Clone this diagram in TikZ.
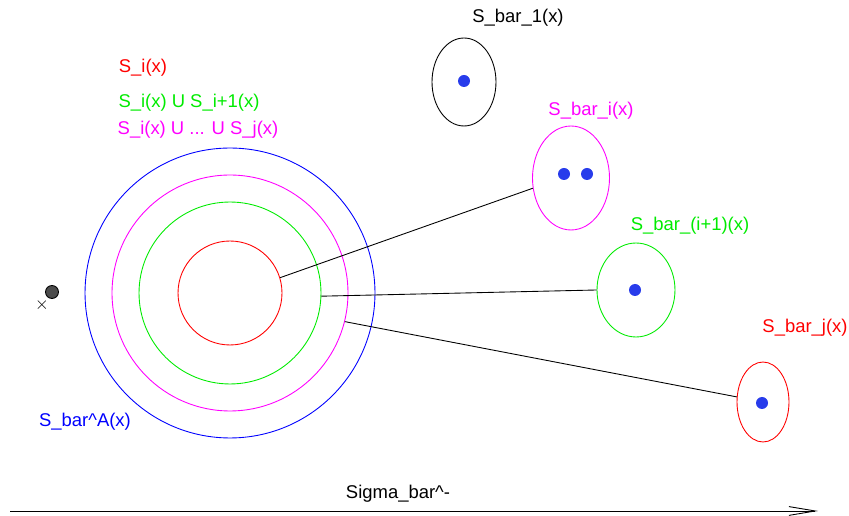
\documentclass[tikz,border=0pt]{standalone}
\usepackage{fontspec}
\setmainfont{Liberation Sans}
\usetikzlibrary{shapes.geometric,arrows.meta}
\definecolor{dotblue}{RGB}{40,60,235}
\definecolor{brightgreen}{RGB}{0,235,0}
\definecolor{pinkset}{RGB}{255,0,255}
\begin{document}
\begin{tikzpicture}[x=0.02cm, y=-0.02cm, line width=0.5pt,
    ring/.style={circle, draw, inner sep=0pt},
    oval/.style={ellipse, draw, inner sep=0pt},
    elem/.style={circle, fill=dotblue, inner sep=0pt, minimum size=0.24cm},
    lbl/.style={inner sep=0pt, font=\fontsize{10.5}{12}\selectfont}]
    \useasboundingbox (0,0) rectangle (849,516);

    % nested sets around x
    \node[ring, draw=blue, minimum size=5.8cm] (sa) at (230,293) {};
    \node[ring, draw=pinkset, minimum size=4.72cm] (sm) at (230,293) {};
    \node[ring, draw=brightgreen, minimum size=3.64cm] (sg) at (230,293) {};
    \node[ring, draw=red, minimum size=2.08cm] (sr) at (230,293) {};

    \node[circle, draw, fill=black!70, inner sep=0pt, minimum size=0.26cm] (pt) at (52,292) {};
    \node[inner sep=0pt] (xm) at (42,305) {$\times$};

    \node[lbl, red] (lsi) at (143,68) {S\_i(x)};
    \node[lbl, brightgreen] (lsi1) at (189,103) {S\_i(x) U S\_i+1(x)};
    \node[lbl, pinkset] (lsj) at (198,130) {S\_i(x) U ... U S\_j(x)};
    \node[lbl, blue] (lsa) at (85,422) {S\_bar\textasciicircum A(x)};

    % the sets S_bar
    \node[oval, minimum width=1.28cm, minimum height=1.76cm] (sb1) at (464,82) {};
    \node[elem] (e1) at (464,81) {};
    \node[lbl] (lsb1) at (518,18) {S\_bar\_1(x)};

    \node[oval, draw=pinkset, minimum width=1.54cm, minimum height=2.08cm] (sbi) at (571,178) {};
    \node[elem] (ei) at (564,174) {};
    \node[elem] (ei2) at (587,174) {};
    \node[lbl, pinkset] (lsbi) at (591,111) {S\_bar\_i(x)};

    \node[oval, draw=brightgreen, minimum width=1.56cm, minimum height=1.88cm] (sbi1) at (636,290) {};
    \node[elem] (ei1) at (635,290) {};
    \node[lbl, brightgreen] (lsbi1) at (690,226) {S\_bar\_(i+1)(x)};

    \node[oval, draw=red, minimum width=1.04cm, minimum height=1.6cm] (sbj) at (763,402) {};
    \node[elem] (ej) at (762,403) {};
    \node[lbl, red] (lsbj) at (805,328) {S\_bar\_j(x)};

    % links
    \draw (sr.17) -- (sbi.195);
    \draw (sg.-2) -- (sbi1.180);
    \draw (sm.-14) -- (sbj.169);

    % axis
    \coordinate (a0) at (10,511);
    \coordinate (a1) at (818,511);
    \draw[-{Straight Barb[length=15pt, width=5pt]}] (a0) -- (a1);
    \node[lbl] (sig) at (398,494) {Sigma\_bar\textasciicircum -};
\end{tikzpicture}
\end{document}
